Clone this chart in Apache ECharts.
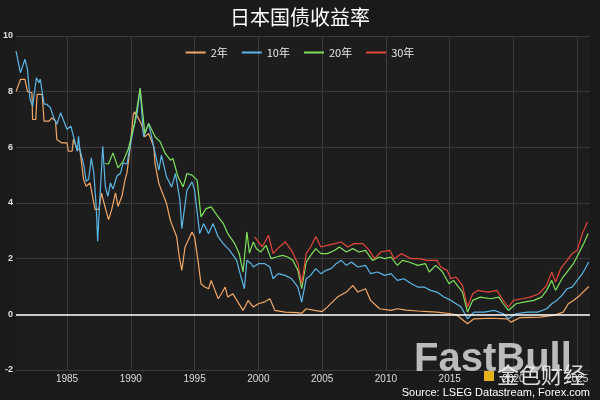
<!DOCTYPE html>
<html><head><meta charset="utf-8">
<script src="https://cdn.jsdelivr.net/npm/echarts@6/dist/echarts.min.js"></script>
<style>html,body{margin:0;padding:0;background:#1a1a1a}#c{width:600px;height:400px}</style>
</head><body><div id="c"></div>
<script>
var seriesNames = ['2年', '10年', '20年', '30年'];
var xTicks = [1985, 1990, 1995, 2000, 2005, 2010, 2015, 2020, 2025];
var yTicks = [-2, 0, 2, 4, 6, 8, 10];

var t2 = [1981.0,1981.35,1981.7,1981.9,1982.25,1982.3,1982.55,1982.65,1983.05,1983.2,1983.6,1983.8,1984.1,1984.2,1984.6,1985.0,1985.1,1985.4,1985.5,1985.8,1986.0,1986.3,1986.5,1986.8,1987.0,1987.2,1987.5,1987.7,1987.9,1988.25,1988.5,1988.8,1989.0,1989.3,1989.55,1989.7,1989.9,1990.2,1990.3,1990.6,1990.86,1991.1,1991.4,1991.8,1991.9,1992.2,1992.4,1992.8,1993.1,1993.3,1993.6,1993.8,1994.0,1994.25,1994.5,1994.8,1995.0,1995.3,1995.5,1995.8,1996.1,1996.3,1996.6,1996.85,1997.1,1997.4,1997.6,1998.0,1998.4,1998.8,1999.2,1999.6,2000.0,2000.5,2000.9,2001.3,2002.1,2003.0,2003.4,2003.75,2004.4,2005.0,2005.4,2006.2,2006.9,2007.4,2007.8,2008.4,2008.8,2009.5,2010.4,2010.9,2011.6,2012.5,2013.3,2014.0,2015.1,2015.6,2016.4,2016.9,2018.2,2019.5,2019.8,2020.5,2022.1,2023.1,2023.9,2024.3,2024.7,2025.2,2025.9];
var y2 = [8.0,8.44,8.44,8.0,7.96,7.0,7.0,7.9,7.9,6.94,6.94,7.06,6.94,6.28,6.16,6.16,5.86,5.86,6.28,5.92,5.95,4.84,4.6,4.72,4.24,3.76,3.78,4.36,4.0,3.4,3.76,4.36,3.88,4.24,4.84,5.08,5.8,7.18,7.28,7.04,6.8,6.38,6.5,6.02,5.42,4.7,4.46,3.98,3.38,3.14,2.78,2.06,1.58,2.42,2.66,2.96,2.78,1.82,1.1,0.98,0.92,1.22,0.86,0.56,0.74,0.98,0.62,0.74,0.44,0.14,0.5,0.26,0.38,0.45,0.56,0.14,0.08,0.06,0.04,0.2,0.14,0.1,0.26,0.62,0.8,1.04,0.8,0.92,0.5,0.2,0.14,0.2,0.15,0.12,0.1,0.08,0.02,-0.04,-0.34,-0.16,-0.14,-0.16,-0.28,-0.12,-0.1,-0.04,0.08,0.38,0.5,0.68,1.0];

var t10 = [1981.0,1981.35,1981.7,1981.9,1982.1,1982.3,1982.6,1982.8,1982.9,1983.2,1983.4,1983.7,1983.96,1984.2,1984.5,1984.7,1985.0,1985.3,1985.5,1985.8,1985.9,1986.0,1986.3,1986.5,1986.7,1986.9,1987.1,1987.3,1987.4,1987.6,1987.8,1988.0,1988.2,1988.4,1988.6,1988.9,1989.2,1989.4,1989.7,1989.9,1990.2,1990.5,1990.73,1991.0,1991.4,1991.8,1992.2,1992.4,1992.8,1993.2,1993.5,1993.85,1994.0,1994.4,1994.8,1995.0,1995.4,1995.7,1996.1,1996.45,1996.85,1997.25,1997.75,1998.3,1998.5,1998.9,1999.1,1999.45,1999.6,2000.0,2000.5,2000.9,2001.15,2001.55,2002.1,2002.6,2003.1,2003.4,2003.75,2004.1,2004.5,2004.9,2005.3,2005.7,2006.1,2006.5,2006.9,2007.3,2007.8,2008.4,2008.8,2009.35,2009.9,2010.4,2010.9,2011.4,2012.0,2012.5,2013.0,2013.5,2014.0,2014.55,2015.1,2015.5,2015.9,2016.4,2016.9,2017.7,2018.5,2019.2,2019.6,2020.2,2021.1,2021.9,2022.6,2023.0,2023.4,2023.8,2024.2,2024.6,2025.0,2025.4,2025.9];
var y10 = [9.46,8.68,9.17,8.8,7.73,7.48,8.5,8.32,8.45,7.55,7.55,7.42,7.06,6.83,7.24,7.0,6.65,6.76,6.4,5.86,6.4,5.93,5.4,4.78,4.85,5.62,5.08,3.78,2.63,4.36,6.04,4.6,4.24,4.72,4.5,4.96,5.08,5.44,5.4,5.93,6.65,7.24,8.12,6.38,6.86,6.02,5.18,5.72,4.94,4.58,5.06,4.1,3.08,4.46,4.76,4.46,2.9,3.26,2.9,3.26,2.78,2.54,2.3,1.94,1.58,0.92,1.94,1.82,1.7,1.82,1.82,1.7,1.28,1.46,1.4,1.28,0.98,0.44,1.28,1.4,1.64,1.46,1.58,1.64,1.82,1.94,1.76,1.88,1.7,1.76,1.46,1.52,1.4,1.46,1.22,1.28,1.1,0.98,0.98,0.86,0.8,0.62,0.5,0.38,0.26,-0.16,0.08,0.08,0.14,0.02,-0.16,0.02,0.08,0.08,0.2,0.38,0.5,0.68,0.92,0.98,1.22,1.46,1.88];

var t20 = [1988.0,1988.25,1988.6,1989.0,1989.4,1989.8,1990.3,1990.73,1991.1,1991.4,1991.9,1992.3,1992.7,1993.1,1993.3,1993.7,1994.1,1994.4,1994.8,1995.2,1995.5,1995.9,1996.3,1996.85,1997.25,1997.6,1998.15,1998.5,1998.8,1999.1,1999.3,1999.6,1999.85,2000.2,2000.6,2001.0,2001.4,2001.9,2002.3,2002.7,2003.1,2003.4,2003.75,2004.1,2004.5,2004.9,2005.4,2006.0,2006.35,2006.9,2007.4,2007.9,2008.4,2008.95,2009.5,2009.9,2010.4,2010.9,2011.3,2011.8,2012.5,2013.1,2013.4,2013.9,2014.4,2014.95,2015.3,2016.0,2016.4,2016.8,2017.4,2018.2,2018.85,2019.2,2019.6,2020.2,2020.8,2021.6,2022.2,2022.6,2023.0,2023.3,2023.8,2024.3,2024.7,2025.1,2025.5,2025.85];
var y20 = [5.42,5.4,5.8,5.26,5.5,5.93,6.88,8.12,6.5,6.86,6.38,6.2,5.78,5.54,5.6,4.94,4.58,5.06,5.0,4.82,3.5,3.8,3.86,3.5,3.26,2.9,2.54,2.18,1.52,2.96,2.2,2.6,2.36,2.24,2.48,2.0,2.06,2.12,2.06,1.94,1.58,0.92,1.88,2.12,2.36,2.18,2.18,2.3,2.42,2.24,2.36,2.24,2.3,1.94,2.06,2.0,2.06,1.76,1.94,1.88,1.76,1.82,1.52,1.76,1.55,1.1,1.22,0.8,0.08,0.5,0.62,0.56,0.62,0.38,0.14,0.38,0.44,0.5,0.62,0.86,1.22,0.86,1.28,1.58,1.82,2.18,2.54,2.9];

var t30 = [1999.7,2000.3,2000.8,2001.15,2001.5,2002.1,2002.6,2003.1,2003.4,2003.75,2004.1,2004.5,2004.9,2005.4,2006.0,2006.5,2007.0,2007.5,2008.2,2008.7,2009.1,2009.6,2010.3,2010.65,2011.2,2012.0,2012.6,2013.25,2014.0,2014.3,2014.8,2015.1,2015.5,2016.0,2016.4,2016.8,2017.2,2018.0,2018.7,2019.1,2019.6,2020.0,2020.7,2021.3,2022.0,2022.6,2023.0,2023.3,2023.7,2024.2,2024.6,2025.0,2025.4,2025.8];
var y30 = [2.78,2.42,2.84,2.18,2.36,2.6,2.3,1.82,1.1,2.18,2.42,2.8,2.42,2.48,2.54,2.6,2.42,2.54,2.54,2.3,2.0,2.24,2.3,2.0,2.18,2.0,2.0,1.94,1.94,1.7,1.58,1.28,1.34,1.04,0.26,0.74,0.86,0.8,0.86,0.56,0.26,0.5,0.56,0.62,0.74,1.04,1.52,1.16,1.64,1.94,2.18,2.3,2.9,3.32];

var colors = ['#f2a865', '#5cb6e6', '#7fe05c', '#e5473b'];

function zip(a, b) { return a.map(function (v, i) { return [v, b[i]]; }); }
var dataSets = [zip(t2, y2), zip(t10, y10), zip(t20, y20), zip(t30, y30)];

var chart = echarts.init(document.getElementById('c'));
var series = dataSets.map(function (d, i) {
  return {
    name: seriesNames[i], type: 'line', data: d, showSymbol: false, symbol: 'none',
    lineStyle: { width: 1.2, color: colors[i] }, itemStyle: { color: colors[i] },
    z: 3 + i
  };
});
series[0].markLine = {
  silent: true, symbol: 'none', label: { show: false },
  lineStyle: { color: '#ffffff', width: 1.5, type: 'solid' },
  data: [{ yAxis: 0 }], z: 10
};

chart.setOption({
  backgroundColor: '#1a1a1a',
  animation: false,
  title: {
    text: '日本国债收益率', left: 'center', top: 2,
    textStyle: { color: '#ffffff', fontSize: 20, fontWeight: 'normal', fontFamily: 'Noto Sans CJK SC' }
  },
  legend: {
    top: 42, left: 'center', itemWidth: 20, itemHeight: 2, itemGap: 14,
    icon: 'rect',
    textStyle: { color: '#e8e8e8', fontSize: 11, fontFamily: 'Noto Sans CJK SC' },
    data: seriesNames
  },
  grid: { left: 14, right: 10, top: 36, bottom: 30, show: true, backgroundColor: '#1d1d1d', borderWidth: 0 },
  xAxis: {
    type: 'value', min: 1981, max: 2026,
    axisLine: { show: false }, axisTick: { show: false, customValues: xTicks },
    axisLabel: { customValues: xTicks, color: '#dddddd', fontSize: 10, margin: 4, fontFamily: 'Liberation Sans',
      formatter: function (v) { return String(v); } },
    splitLine: { show: true, lineStyle: { color: '#3a3a3a', width: 1 } }
  },
  yAxis: {
    type: 'value', min: -2, max: 10, interval: 2,
    axisLine: { show: false }, axisTick: { show: false },
    axisLabel: { color: '#e0e0e0', fontSize: 9, margin: 3, fontWeight: 'bold', fontFamily: 'Liberation Sans' },
    splitLine: { show: true, lineStyle: { color: '#3a3a3a', width: 1 } }
  },
  graphic: [
    { type: 'text', left: 414, top: 340, z: 50,
      style: { text: 'FastBull', fill: 'rgba(215,215,215,0.85)', font: 'bold 40px "Liberation Sans"' } },
    { type: 'rect', left: 484, top: 371, z: 50, shape: { width: 10, height: 10 }, style: { fill: '#e5b21c' } },
    { type: 'text', left: 497, top: 364, z: 50,
      style: { text: '金色财经', fill: 'rgba(240,240,240,0.9)', font: '22px "Noto Sans CJK SC"' } },
    { type: 'text', right: 10, top: 387, z: 51,
      style: { text: 'Source: LSEG Datastream, Forex.com', fill: '#ffffff', font: '11px "Liberation Sans"' } }
  ],
  series: series
});
</script></body></html>
